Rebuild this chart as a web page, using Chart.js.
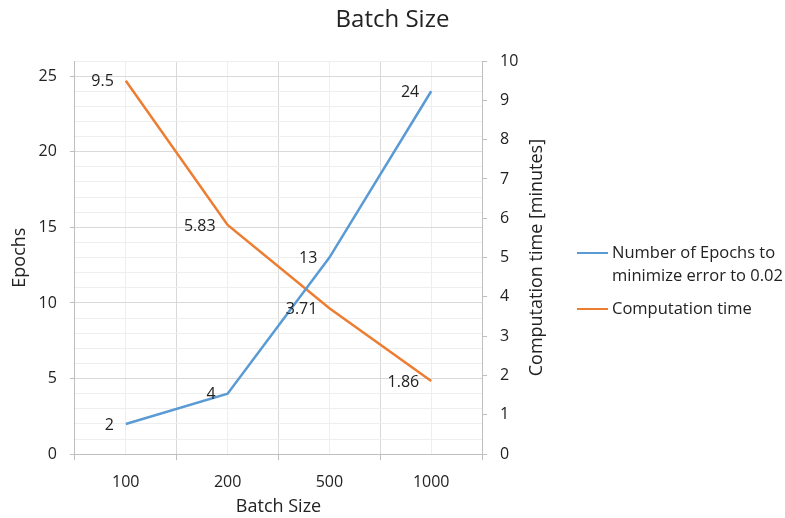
<!DOCTYPE html>
<html>
<head>
<meta charset="utf-8">
<script src="https://cdn.jsdelivr.net/npm/chart.js@4.4.1/dist/chart.umd.min.js"></script>
<style>
  body { margin: 0; background: #fff; font-family: "Open Sans", sans-serif; }
  #wrap { position: relative; width: 785px; height: 518px; }
  #legend { position: absolute; left: 577px; top: 240px; font-size: 16.5px; color: #222; line-height: 23px; }
  .item { display: flex; align-items: flex-start; margin-bottom: 10px; }
  .swatch { width: 31px; height: 2px; margin-top: 12px; margin-right: 4px; }
</style>
</head>
<body>
<div id="wrap">
  <canvas id="chart" width="785" height="518"></canvas>
  <div id="legend">
    <div class="item"><span class="swatch" style="background:#5B9BD5"></span><span>Number of Epochs to<br>minimize error to 0.02</span></div>
    <div class="item"><span class="swatch" style="background:#ED7D31"></span><span>Computation time</span></div>
  </div>
</div>
<script>
const categories = ['100', '200', '500', '1000'];
const epochs = [2, 4, 13, 24];
const compTime = [9.5, 5.83, 3.71, 1.86];
const epochTicks = [0, 5, 10, 15, 20, 25];

const blue = '#5B9BD5';
const orange = '#ED7D31';
const textColor = '#222';
const fontFamily = '"Open Sans", sans-serif';
const chartTitle = 'Batch Size';
const rightTitle = 'Computation time [minutes]';

// data labels drawn left of each point, like the excel "left" position
const labelPlugin = {
  id: 'pointLabels',
  afterDatasetsDraw(chart) {
    const ctx = chart.ctx;
    ctx.save();
    ctx.font = '16px ' + fontFamily;
    ctx.fillStyle = textColor;
    ctx.textAlign = 'right';
    ctx.textBaseline = 'middle';
    chart.data.datasets.forEach((ds, i) => {
      chart.getDatasetMeta(i).data.forEach((pt, j) => {
        ctx.fillText(String(ds.data[j].y), pt.x - 12, pt.y + 1);
      });
    });
    ctx.restore();
  }
};

// title centred on the whole canvas, and the right axis title read bottom-to-top
const textPlugin = {
  id: 'extraText',
  afterDraw(chart) {
    const ctx = chart.ctx;
    ctx.save();
    ctx.fillStyle = textColor;
    ctx.textAlign = 'center';
    ctx.textBaseline = 'middle';
    ctx.font = '24px ' + fontFamily;
    ctx.fillText(chartTitle, chart.width / 2, 20);

    const s = chart.scales.y1;
    ctx.translate(s.right - 10.8, (chart.chartArea.top + chart.chartArea.bottom) / 2);
    ctx.rotate(-Math.PI / 2);
    ctx.font = '18px ' + fontFamily;
    ctx.fillText(rightTitle, 0, 0);
    ctx.restore();
  }
};

const toPoints = (arr) => arr.map((v, i) => ({ x: i, y: v }));

new Chart(document.getElementById('chart'), {
  type: 'line',
  data: {
    datasets: [
      {
        label: 'Number of Epochs to minimize error to 0.02',
        data: toPoints(epochs),
        borderColor: blue,
        backgroundColor: blue,
        borderWidth: 2.5,
        pointRadius: 0,
        yAxisID: 'y'
      },
      {
        label: 'Computation time',
        data: toPoints(compTime),
        borderColor: orange,
        backgroundColor: orange,
        borderWidth: 2.5,
        pointRadius: 0,
        yAxisID: 'y1'
      }
    ]
  },
  options: {
    responsive: false,
    animation: false,
    layout: { padding: { left: 4, right: 237, top: 61, bottom: 0 } },
    plugins: {
      legend: { display: false },
      tooltip: { enabled: false },
      title: { display: false }
    },
    scales: {
      x: {
        type: 'linear',
        min: -0.5,
        max: 3.5,
        afterBuildTicks(scale) {
          const t = [];
          for (let v = -0.5; v <= 3.5; v += 0.5) t.push({ value: v });
          scale.ticks = t;
        },
        ticks: {
          autoSkip: false,
          maxRotation: 0,
          color: textColor,
          padding: 13,
          font: { family: fontFamily, size: 16 },
          callback: (v) => Number.isInteger(v) ? categories[v] : ''
        },
        grid: {
          color: (c) => Number.isInteger(c.tick.value) ? '#eeeeee' : '#d9d9d9',
          tickColor: (c) => Number.isInteger(c.tick.value) ? 'rgba(0,0,0,0)' : '#bfbfbf',
          tickLength: 6
        },
        border: { color: '#bfbfbf' },
        title: {
          display: true,
          text: 'Batch Size',
          color: textColor,
          font: { family: fontFamily, size: 18 },
          padding: { top: -9, bottom: 0 }
        }
      },
      y: {
        position: 'left',
        min: 0,
        max: 26,
        afterBuildTicks(scale) {
          const t = [];
          for (let v = 0; v <= 26; v++) t.push({ value: v });
          scale.ticks = t;
        },
        ticks: {
          autoSkip: false,
          color: textColor,
          padding: 13,
          font: { family: fontFamily, size: 16 },
          callback: (v) => epochTicks.includes(v) ? String(v) : ''
        },
        grid: {
          color: (c) => epochTicks.includes(c.tick.value) ? '#d9d9d9' : '#eeeeee',
          tickColor: (c) => epochTicks.includes(c.tick.value) ? '#bfbfbf' : 'rgba(0,0,0,0)',
          tickLength: 5
        },
        border: { color: '#bfbfbf' },
        title: {
          display: true,
          text: 'Epochs',
          color: textColor,
          font: { family: fontFamily, size: 18 },
          padding: { top: 5, bottom: -5 }
        }
      },
      y1: {
        position: 'right',
        min: 0,
        max: 10,
        ticks: {
          stepSize: 1,
          color: textColor,
          padding: 13,
          font: { family: fontFamily, size: 16 }
        },
        grid: {
          drawOnChartArea: false,
          tickColor: '#bfbfbf',
          tickLength: 5
        },
        border: { color: '#bfbfbf' },
        title: {
          // space only, the text itself is drawn by textPlugin
          display: true,
          text: rightTitle,
          color: 'rgba(0,0,0,0)',
          font: { family: fontFamily, size: 18 },
          padding: { top: -5, bottom: 0 }
        }
      }
    }
  },
  plugins: [labelPlugin, textPlugin]
});
</script>
</body>
</html>
